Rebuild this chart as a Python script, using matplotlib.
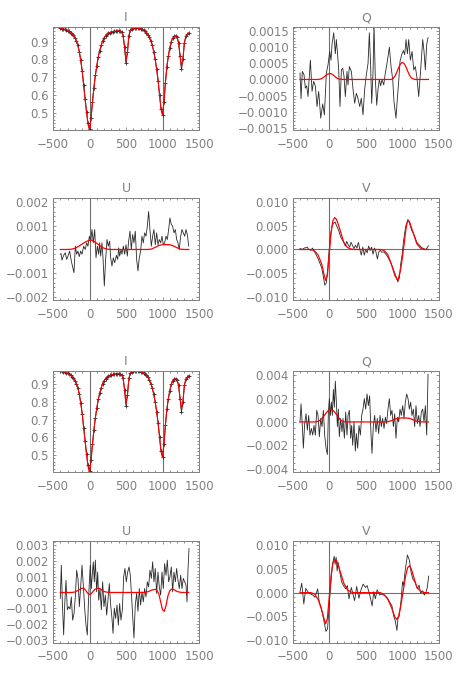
import numpy as np
import matplotlib
matplotlib.use("Agg")
import matplotlib.pyplot as plt
from matplotlib.ticker import MultipleLocator, AutoMinorLocator, FuncFormatter

# ---------------- data ----------------
i_x = list(range(-400, 1361, 20))
i_obs = [0.975, 0.974, 0.972, 0.970, 0.967, 0.963, 0.958, 0.952, 0.945, 0.936,
         0.922, 0.905, 0.880, 0.845, 0.795, 0.735, 0.655, 0.580, 0.505, 0.440,
         0.410,
         0.470, 0.560, 0.640, 0.710, 0.765, 0.815, 0.850, 0.880, 0.905, 0.922,
         0.933, 0.942, 0.948, 0.952, 0.955, 0.957, 0.958, 0.960, 0.961, 0.962,
         0.960, 0.955, 0.935, 0.870, 0.780, 0.840, 0.935, 0.965, 0.972, 0.975,
         0.976, 0.976, 0.976, 0.975, 0.973, 0.970, 0.966, 0.960, 0.952, 0.940,
         0.925, 0.905, 0.880, 0.845, 0.800, 0.745, 0.680, 0.600, 0.520, 0.490,
         0.560, 0.670, 0.760, 0.820, 0.865, 0.900, 0.920, 0.932, 0.933, 0.925,
         0.895, 0.820, 0.745, 0.800, 0.895, 0.930, 0.942, 0.948]
i_fit = [0.975, 0.974, 0.972, 0.970, 0.967, 0.963, 0.958, 0.952, 0.945, 0.936,
         0.922, 0.905, 0.880, 0.845, 0.795, 0.735, 0.655, 0.575, 0.500, 0.435,
         0.400,
         0.462, 0.555, 0.640, 0.710, 0.765, 0.815, 0.850, 0.880, 0.905, 0.922,
         0.933, 0.942, 0.948, 0.952, 0.955, 0.957, 0.958, 0.960, 0.961, 0.962,
         0.960, 0.955, 0.935, 0.875, 0.790, 0.845, 0.935, 0.965, 0.972, 0.975,
         0.976, 0.976, 0.976, 0.975, 0.973, 0.970, 0.966, 0.960, 0.952, 0.940,
         0.925, 0.905, 0.880, 0.845, 0.800, 0.745, 0.680, 0.600, 0.520, 0.485,
         0.560, 0.670, 0.760, 0.820, 0.865, 0.900, 0.920, 0.932, 0.933, 0.925,
         0.895, 0.825, 0.760, 0.805, 0.895, 0.930, 0.942, 0.950]

# Q (top)
q1_x = [-400, -386, -368, -345, -327, -308, -290, -258, -235, -213, -190, -167, -144, -116, -89,
        -66, -39, -16, 7, 25, 39, 62, 84, 98, 112, 130, 148, 167, 185, 203,
        221, 244, 258, 276, 304, 326, 349, 372, 395, 418, 440, 463, 486, 509, 532,
        550, 568, 582, 600, 614, 632, 651, 669, 687, 705, 724, 747, 769, 792, 824,
        847, 870, 888, 915, 934, 952, 970, 993, 1016, 1034, 1053, 1071, 1089, 1112, 1135,
        1158, 1180, 1203, 1226, 1253, 1281, 1299, 1317, 1336, 1354]
q1_y = [2e-4, -6e-4, 2.5e-4, 1.5e-4, -2.7e-4, -2e-4, -5.3e-4, 6e-4, -3.7e-4, -0.6e-4,
        -2e-4, -8.4e-4, -3.7e-4, -12e-4, -7.6e-4, -11e-4, 2e-4, 4.6e-4, 8.7e-4, 6e-4,
        11e-4, 14.5e-4, 8e-4, 12.4e-4, 8.7e-4, 3e-4, -8.4e-4, 3e-4, 3.5e-4, 1e-4,
        -5.3e-4, 2.5e-4, -1.7e-4, 4e-4, 2.5e-4, -3e-4, -7.4e-4, -4.3e-4, -6e-4, -8.4e-4,
        -5.8e-4, -11e-4, -3e-4, 1.5e-4, 5e-4, 14.5e-4, 4e-4, -7.4e-4, 2e-4, 17e-4,
        0, -8e-4, -3e-4, 0, -2e-4, 0, -1.7e-4, 2e-4, 5e-4, 10e-4,
        4e-4, 0, -7e-4, -12e-4, -5.8e-4, -0.6e-4, 5.6e-4, 7.7e-4, 9e-4, 7.7e-4,
        12.4e-4, 8e-4, 12.4e-4, 6e-4, 8.7e-4, 3e-4, 4e-4, 0.4e-4, -5.3e-4, 3e-4,
        12.4e-4, 8.7e-4, 3e-4, 11e-4, 13e-4]
q1f_x = [-400, -150, -125, -100, -75, -50, -25, 0, 25, 50, 75, 100, 125, 150, 175,
         850, 875, 900, 925, 950, 975, 1000, 1025, 1050, 1075, 1100, 1125, 1150, 1175, 1360]
q1f_y = [0, 0, 0.1e-4, 0.3e-4, 0.7e-4, 1.2e-4, 1.6e-4, 1.8e-4, 1.8e-4, 1.5e-4,
         1.0e-4, 0.5e-4, 0.2e-4, 0.1e-4, 0, 0, 0.3e-4, 1.0e-4, 2.2e-4, 3.6e-4,
         4.8e-4, 5.3e-4, 5.0e-4, 4.0e-4, 2.6e-4, 1.3e-4, 0.5e-4, 0.2e-4, 0, 0]

# U (top)
u1_x = [-400, -390, -377, -354, -331, -313, -295, -272, -249, -226, -213, -194, -176, -158, -140,
        -121, -103, -80, -58, -39, -21, -2, 16, 34, 52, 71, 89, 107, 126, 139,
        153, 171, 185, 203, 221, 240, 258, 276, 290, 308, 326, 345, 368, 386, 400,
        413, 432, 445, 463, 482, 500, 518, 536, 555, 573, 591, 609, 627, 646, 664,
        682, 700, 719, 737, 755, 774, 792, 810, 828, 847, 865, 883, 901, 920, 938,
        956, 975, 993, 1011, 1029, 1048, 1066, 1084, 1102, 1121, 1139, 1157, 1176, 1194, 1212,
        1230, 1249, 1267, 1285, 1304, 1322, 1340, 1359]
u1_y = [-2e-4, -1.7e-4, -4.5e-4, -2.5e-4, -1.4e-4, -4.2e-4, -2.8e-4, -0.7e-4, -4.9e-4, -8e-4,
        -9.8e-4, 1.4e-4, -2e-4, -0.7e-4, -3e-4, -0.7e-4, -2e-4, 1.4e-4, 0, 2.8e-4,
        1.4e-4, 5.6e-4, 3.5e-4, 8.4e-4, 2.8e-4, 8.4e-4, -3.5e-4, 1.4e-4, -2e-4, 2.8e-4,
        -2.8e-4, 2.8e-4, -3.5e-4, -15.4e-4, -4.2e-4, 4.2e-4, 1.4e-4, 3.5e-4, -3.5e-4, -7e-4,
        -3.5e-4, -5.6e-4, -2.5e-4, -4.2e-4, 0.7e-4, -2.8e-4, 0, -2e-4, 1.4e-4, -2e-4,
        2e-4, -2.8e-4, 3.5e-4, 7.7e-4, 0, 6.3e-4, 2.8e-4, 7.7e-4, -4.2e-4, -9e-4,
        -3.5e-4, -0.7e-4, 5.6e-4, 2.8e-4, 7e-4, 5.6e-4, 9.8e-4, 16e-4, 8.4e-4, 1.4e-4,
        5.6e-4, 8.4e-4, 2e-4, 7e-4, 2e-4, 4.2e-4, 2.8e-4, 5.6e-4, 2e-4, 2.8e-4,
        5.6e-4, 4.2e-4, 8.4e-4, 13.3e-4, 10.5e-4, 9.8e-4, 7e-4, 8.4e-4, 4.2e-4, 2.8e-4,
        0, 5.6e-4, 8.4e-4, 7e-4, 5.6e-4, 8.4e-4, 6.3e-4, 1.4e-4]
u1f_x = [-400, -300, -250, -200, -150, -100, -50, 0, 25, 50, 100, 150, 200, 250, 300,
         800, 850, 900, 950, 1000, 1050, 1100, 1150, 1200, 1250, 1300, 1360]
u1f_y = [0, 0, 0.1e-4, 0.5e-4, 1.3e-4, 2.3e-4, 3.3e-4, 3.9e-4, 3.9e-4, 3.6e-4,
         2.6e-4, 1.4e-4, 0.5e-4, 0.1e-4, 0, 0, 0.2e-4, 0.9e-4, 1.7e-4, 2.0e-4,
         2.1e-4, 2.0e-4, 1.5e-4, 0.7e-4, 0.1e-4, 0, 0]

# V (top)
v1_x = [-400, -370, -340, -300, -280, -250, -230, -200, -150, -100, -60, -40, -20, 0, 20,
        40, 60, 80, 100, 130, 160, 200, 220, 240, 260, 280, 300, 320, 340, 360,
        380, 400, 420, 440, 460, 480, 500, 520, 540, 560, 580, 600, 620, 640, 660,
        680, 700, 720, 750, 800, 850, 900, 940, 960, 980, 1000, 1020, 1050, 1080, 1100,
        1130, 1160, 1200, 1230, 1260, 1290, 1320, 1340, 1360]
v1_y = [0.2e-3, 0, 0.3e-3, 0.5e-3, 0, -0.2e-3, 0.3e-3, -0.5e-3, -2e-3, -4e-3,
        -7.5e-3, -7e-3, -4e-3, 0, 3e-3, 5e-3, 5.5e-3, 5.8e-3, 5e-3, 4e-3,
        2.5e-3, 1.5e-3, 0.7e-3, 1.7e-3, 1e-3, 0.5e-3, 1.5e-3, 0.8e-3, 0.2e-3, 0.9e-3,
        0.3e-3, 1.5e-3, 0, -1.2e-3, 0.5e-3, -1.2e-3, 0, -0.7e-3, 0.7e-3, -0.2e-3,
        0.5e-3, -1e-3, 0.3e-3, -0.5e-3, -2e-3, -0.5e-3, -0.2e-3, -0.6e-3, -0.5e-3, -1.5e-3,
        -3e-3, -5e-3, -6.8e-3, -6e-3, -3e-3, -1e-3, 2e-3, 5e-3, 6.2e-3, 5.5e-3,
        4e-3, 3.2e-3, 1.5e-3, 1e-3, 0.5e-3, 0.2e-3, 0, 0.3e-3, 0.8e-3]
v1f_x = [-400, -250, -200, -150, -100, -75, -50, -25, 0, 25, 50, 75, 100, 125, 150,
         200, 250, 300, 350, 700, 750, 800, 850, 900, 940, 975, 1000, 1025, 1050, 1075,
         1100, 1150, 1200, 1250, 1300, 1360]
v1f_y = [0, 0, -0.3e-3, -1.2e-3, -3.2e-3, -5e-3, -6.5e-3, -5.5e-3, -1e-3, 3.5e-3,
         6e-3, 6.7e-3, 6.3e-3, 5.2e-3, 4e-3, 1.5e-3, 0.4e-3, 0.1e-3, 0, 0,
         -0.2e-3, -1e-3, -3e-3, -5.5e-3, -6.5e-3, -4.5e-3, -2e-3, 1e-3, 4.2e-3, 6.2e-3,
         5.8e-3, 3.5e-3, 1.2e-3, 0.3e-3, 0, 0]

# Q (bottom)
q2_x = [-400, -386, -368, -354, -336, -317, -299, -281, -263, -244, -226, -208, -190, -171, -153,
        -135, -116, -98, -80, -62, -43, -25, -11, 2, 16, 30, 43, 57, 71, 84,
        98, 112, 125, 139, 157, 175, 189, 208, 226, 244, 258, 276, 294, 308, 322,
        340, 358, 372, 390, 408, 427, 445, 463, 481, 500, 518, 536, 554, 573, 586,
        605, 623, 641, 659, 678, 696, 714, 732, 751, 769, 787, 805, 824, 842, 860,
        879, 897, 915, 934, 952, 970, 988, 1007, 1025, 1043, 1061, 1080, 1098, 1116, 1134,
        1153, 1171, 1189, 1207, 1226, 1244, 1262, 1281, 1299, 1317, 1336, 1354]
q2_y = [0, 15.5e-4, -3e-4, -22.5e-4, -1.4e-4, 7e-4, -7e-4, 5.6e-4, -11.3e-4, -5.6e-4,
        -11.3e-4, -3e-4, -11.3e-4, 10e-4, 5.6e-4, -12.7e-4, 3e-4, -4e-4, 10e-4, -11.3e-4,
        -22.5e-4, -28e-4, 8.5e-4, 20e-4, 5.6e-4, 17e-4, 5.6e-4, 28e-4, 12.7e-4, 35e-4,
        17e-4, -4e-4, 11e-4, -12.7e-4, 3e-4, -8.5e-4, 3e-4, -14e-4, 8.5e-4, -11.3e-4,
        5.6e-4, 10e-4, -14e-4, -3e-4, -20e-4, 0, -25e-4, -10e-4, -22.5e-4, -3e-4,
        -11.3e-4, 5.6e-4, 11e-4, 20e-4, 11e-4, 24e-4, 14e-4, 22.5e-4, -11.3e-4, -27e-4,
        -3e-4, 5.6e-4, -8.5e-4, 3e-4, -10e-4, 5.6e-4, -4e-4, 3e-4, -5.6e-4, 4e-4,
        -1.4e-4, 11e-4, 20e-4, 5.6e-4, 10e-4, -4e-4, 7e-4, -14e-4, 4e-4, 0,
        11e-4, 5.6e-4, 14e-4, 3e-4, 17e-4, 24e-4, 20e-4, 11e-4, 17e-4, 5.6e-4,
        11e-4, -4e-4, 14e-4, -1.4e-4, 5.6e-4, -4e-4, 8.5e-4, 11e-4, 0, 14e-4,
        -11.3e-4, 41e-4]
q2f_x = [-400, -200, -175, -150, -125, -100, -75, -50, -25, 0, 25, 50, 75, 100, 125,
         150, 175, 200, 225, 775, 800, 850, 900, 950, 1000, 1050, 1100, 1150, 1200, 1250,
         1275, 1360]
q2f_y = [0, 0, 0.2e-4, 0.6e-4, 1.5e-4, 3e-4, 5e-4, 7e-4, 9e-4, 10.4e-4,
         10.7e-4, 10e-4, 8.5e-4, 6.3e-4, 4e-4, 2e-4, 0.8e-4, 0.2e-4, 0, 0,
         0.2e-4, 1e-4, 2.5e-4, 3.3e-4, 3.4e-4, 3.4e-4, 3e-4, 1.8e-4, 0.6e-4, 0.1e-4,
         0, 0]

# U (bottom)
u2_x = [-400, -386, -372, -354, -340, -322, -304, -285, -267, -249, -231, -212, -194, -176, -158,
        -139, -121, -103, -85, -66, -48, -30, -16, -2, 11, 25, 39, 52, 66, 80,
        98, 112, 126, 144, 162, 180, 198, 217, 235, 253, 271, 290, 308, 322, 340,
        358, 377, 395, 413, 431, 450, 468, 486, 504, 523, 541, 559, 577, 596, 609,
        627, 646, 664, 682, 700, 719, 737, 755, 774, 792, 810, 828, 847, 865, 883,
        901, 920, 938, 956, 975, 993, 1011, 1029, 1048, 1066, 1084, 1102, 1121, 1139, 1157,
        1176, 1194, 1212, 1230, 1249, 1267, 1285, 1304, 1322, 1336, 1349, 1363]
u2_y = [-3.8e-4, 17.4e-4, -6e-4, -27e-4, -8e-4, 7.8e-4, -11e-4, -9e-4, -10.6e-4, -2.8e-4,
        -17.6e-4, -13.4e-4, -2.8e-4, 14.2e-4, 9e-4, -9e-4, 3.6e-4, 17.4e-4, 4.7e-4, -10e-4,
        -20.8e-4, -27e-4, -8e-4, 6.8e-4, 17.4e-4, 2.5e-4, 12e-4, 19.5e-4, 6.8e-4, 20.6e-4,
        0.4e-4, 13e-4, -4.9e-4, 2.5e-4, -11e-4, 6.8e-4, -9e-4, -1.7e-4, -14.4e-4, -4.9e-4,
        5.7e-4, -8e-4, -16.5e-4, -26e-4, -10e-4, -16.5e-4, -8e-4, -20.8e-4, -7e-4, -17.6e-4,
        -11e-4, 10e-4, 15.3e-4, 6.8e-4, 13e-4, 16.3e-4, 11e-4, -2.8e-4, -18.7e-4, -29e-4,
        -8e-4, -0.6e-4, -12e-4, 2.5e-4, -8e-4, 0.4e-4, -6e-4, 2.5e-4, -2.8e-4, 6.8e-4,
        3.6e-4, 14.2e-4, 9e-4, 19.5e-4, 6.8e-4, 15.3e-4, -0.6e-4, 13e-4, 3.6e-4, -1.7e-4,
        13e-4, 2.5e-4, 18.4e-4, 11e-4, 20.6e-4, 6.8e-4, 10e-4, 16.3e-4, 0.4e-4, 13e-4,
        6.8e-4, 15.3e-4, 7.8e-4, 2.5e-4, 11e-4, 2.5e-4, 9e-4, 6.8e-4, 4.7e-4, -6e-4,
        14.2e-4, 28e-4]
u2f_x = [-400, -250, -200, -150, -100, -75, -50, -25, 0, 25, 50, 75, 100, 125, 150,
         175, 200, 250, 300, 750, 800, 850, 900, 925, 950, 975, 1000, 1025, 1050, 1075,
         1100, 1125, 1150, 1175, 1200, 1250, 1300, 1360]
u2f_y = [0, 0, 0.3e-4, 1.5e-4, 2.8e-4, 2.5e-4, 1.2e-4, -0.5e-4, -1.3e-4, -0.8e-4,
         0.8e-4, 2e-4, 2.7e-4, 2.7e-4, 2.2e-4, 1.3e-4, 0.6e-4, 0.1e-4, 0, 0,
         0.5e-4, 1.5e-4, 2e-4, 1.2e-4, -1e-4, -6e-4, -11e-4, -12e-4, -8e-4, -2e-4,
         1.2e-4, 2.2e-4, 2e-4, 1.3e-4, 0.6e-4, 0.1e-4, 0, 0]

# V (bottom)
v2_x = [-400, -376, -348, -321, -285, -226, -195, -158, -136, -113, -77, -45, -23, 0, 23,
        45, 68, 81, 95, 109, 122, 145, 172, 195, 226, 249, 271, 303, 330, 348,
        376, 407, 439, 466, 498, 520, 557, 588, 611, 633, 656, 692, 724, 756, 792,
        828, 860, 882, 905, 928, 941, 959, 982, 1005, 1018, 1041, 1072, 1100, 1122, 1145,
        1176, 1208, 1231, 1253, 1281, 1303, 1326, 1344, 1362]
v2_y = [0.2e-3, 2.0e-3, -2.4e-3, 0.9e-3, 0, -0.5e-3, -1.0e-3, 0.8e-3, -2.0e-3, -3.0e-3,
        -5.6e-3, -8.2e-3, -7.7e-3, -2.7e-3, 2.2e-3, 6.0e-3, 7.7e-3, 6.0e-3, 7.5e-3, 4.6e-3,
        6.4e-3, 4.3e-3, 2.2e-3, 1.5e-3, 0.8e-3, 1.5e-3, -1.3e-3, 1.1e-3, -0.6e-3, -1.7e-3,
        1.3e-3, -1.2e-3, 0.8e-3, 1.8e-3, 1.1e-3, 1.5e-3, -0.6e-3, -2.8e-3, 0.2e-3, -1.3e-3,
        0.6e-3, -0.5e-3, -0.3e-3, -0.6e-3, -1.0e-3, -2.0e-3, -2.8e-3, -4.9e-3, -6.0e-3, -8.0e-3,
        -5.6e-3, -4.9e-3, -2.0e-3, 2.3e-3, 1.5e-3, 4.7e-3, 8.0e-3, 6.8e-3, 4.3e-3, 2.9e-3,
        2.2e-3, 0.8e-3, 1.6e-3, -0.1e-3, 0.4e-3, -0.5e-3, 0.1e-3, 1.1e-3, 3.5e-3]
v2f_x = [-400, -250, -200, -150, -100, -75, -50, -25, 0, 25, 50, 75, 100, 125, 150,
         200, 250, 300, 350, 700, 750, 800, 850, 900, 925, 950, 975, 1000, 1025, 1050,
         1075, 1100, 1125, 1150, 1200, 1250, 1300, 1360]
v2f_y = [0, 0, -0.3e-3, -1.5e-3, -3.8e-3, -5.3e-3, -6.6e-3, -5.5e-3, -1e-3, 3.5e-3,
         6.2e-3, 7.0e-3, 6.8e-3, 5.8e-3, 4.5e-3, 2e-3, 0.6e-3, 0.1e-3, 0, 0,
         -0.4e-3, -1.3e-3, -3e-3, -5.2e-3, -5.7e-3, -5e-3, -3.3e-3, -1e-3, 1.5e-3, 3.8e-3,
         5.3e-3, 5.7e-3, 5e-3, 3.7e-3, 1.2e-3, 0.3e-3, 0, 0]

# ---------------- style ----------------
GREY = "#808080"
LINE_GREY = "#707070"
DATA = "#2a2a2a"
plt.rcParams['font.family'] = ['DejaVu Sans']
plt.rcParams['font.size'] = 8.5

fig = plt.figure(figsize=(4.63, 6.74), dpi=100)

W = 146 / 463
LEFT = [53 / 463, 292.7 / 463]
ROWS = [(1 - 130 / 674, 103 / 674), (1 - 300 / 674, 102 / 674),
        (1 - 472 / 674, 101.3 / 674), (1 - 642.7 / 674, 102 / 674)]


def fmt_factory(decimals):
    def f(v, pos):
        s = f"{v:.{decimals}f}"
        if s.startswith('-'):
            s = '\u2212' + s[1:]
        return s
    return FuncFormatter(f)


def make_axes(row, col, title, ylim, ymajor, decimals, yminor):
    b, h = ROWS[row]
    ax = fig.add_axes([LEFT[col], b, W, h])
    ax.set_xlim(-500, 1500)
    ax.set_ylim(*ylim)
    ax.xaxis.set_major_locator(MultipleLocator(500))
    ax.xaxis.set_minor_locator(MultipleLocator(100))
    ax.yaxis.set_major_locator(MultipleLocator(ymajor))
    ax.yaxis.set_minor_locator(AutoMinorLocator(yminor))
    ax.xaxis.set_major_formatter(fmt_factory(0))
    ax.yaxis.set_major_formatter(fmt_factory(decimals))
    ax.tick_params(which='both', direction='in', top=True, right=True,
                   color=GREY, labelcolor=GREY, width=0.6)
    ax.tick_params(which='major', length=2.4)
    ax.tick_params(which='minor', length=1.2)
    ax.tick_params(axis='x', pad=5.5)
    ax.tick_params(axis='y', pad=3)
    for sp in ax.spines.values():
        sp.set_color(GREY)
        sp.set_linewidth(0.7)
    ax.set_title(title, color=GREY, fontsize=9, pad=4)
    return ax


# I top
ax = make_axes(0, 0, "I", (0.403, 0.983), 0.1, 1, 5)
ax.axvline(0, color=LINE_GREY, lw=0.8)
ax.axvline(1000, color=LINE_GREY, lw=0.8)
ax.plot(i_x, i_obs, color=DATA, lw=0.7, marker='+', ms=3.2, mew=0.6)
ax.plot(i_x, i_fit, color='red', lw=0.8)

# Q top
ax = make_axes(0, 1, "Q", (-0.00157, 0.00163), 0.0005, 4, 5)
ax.axvline(0, color=LINE_GREY, lw=0.8)
ax.plot(q1_x, q1_y, color=DATA, lw=0.6)
ax.plot(q1f_x, q1f_y, color='red', lw=0.9)

# U top
ax = make_axes(1, 0, "U", (-0.00213, 0.00217), 0.001, 3, 5)
ax.axvline(0, color=LINE_GREY, lw=0.8)
ax.plot(u1_x, u1_y, color=DATA, lw=0.6)
ax.plot(u1f_x, u1f_y, color='red', lw=0.9)

# V top
ax = make_axes(1, 1, "V", (-0.0106, 0.0108), 0.005, 3, 5)
ax.axvline(0, color=LINE_GREY, lw=0.8)
ax.axhline(0, color=LINE_GREY, lw=0.8)
ax.plot(v1_x, v1_y, color=DATA, lw=0.6)
ax.plot(v1f_x, v1f_y, color='red', lw=0.9)

# I bottom
ax = make_axes(2, 0, "I", (0.403, 0.978), 0.1, 1, 5)
ax.axvline(0, color=LINE_GREY, lw=0.8)
ax.axvline(1000, color=LINE_GREY, lw=0.8)
ax.plot(i_x, i_obs, color=DATA, lw=0.7, marker='+', ms=3.2, mew=0.6)
ax.plot(i_x, i_fit, color='red', lw=0.8)

# Q bottom
ax = make_axes(2, 1, "Q", (-0.0043, 0.0044), 0.002, 3, 4)
ax.axvline(0, color=LINE_GREY, lw=0.8)
ax.plot(q2_x, q2_y, color=DATA, lw=0.6)
ax.plot(q2f_x, q2f_y, color='red', lw=0.9)

# U bottom
ax = make_axes(3, 0, "U", (-0.0032, 0.0033), 0.001, 3, 5)
ax.axvline(0, color=LINE_GREY, lw=0.8)
ax.plot(u2_x, u2_y, color=DATA, lw=0.6)
ax.plot(u2f_x, u2f_y, color='red', lw=0.9)

# V bottom
ax = make_axes(3, 1, "V", (-0.0106, 0.0110), 0.005, 3, 5)
ax.axvline(0, color=LINE_GREY, lw=0.8)
ax.axhline(0, color=LINE_GREY, lw=0.8)
ax.plot(v2_x, v2_y, color=DATA, lw=0.6)
ax.plot(v2f_x, v2f_y, color='red', lw=0.9)

fig.savefig("out.png", dpi=100)
